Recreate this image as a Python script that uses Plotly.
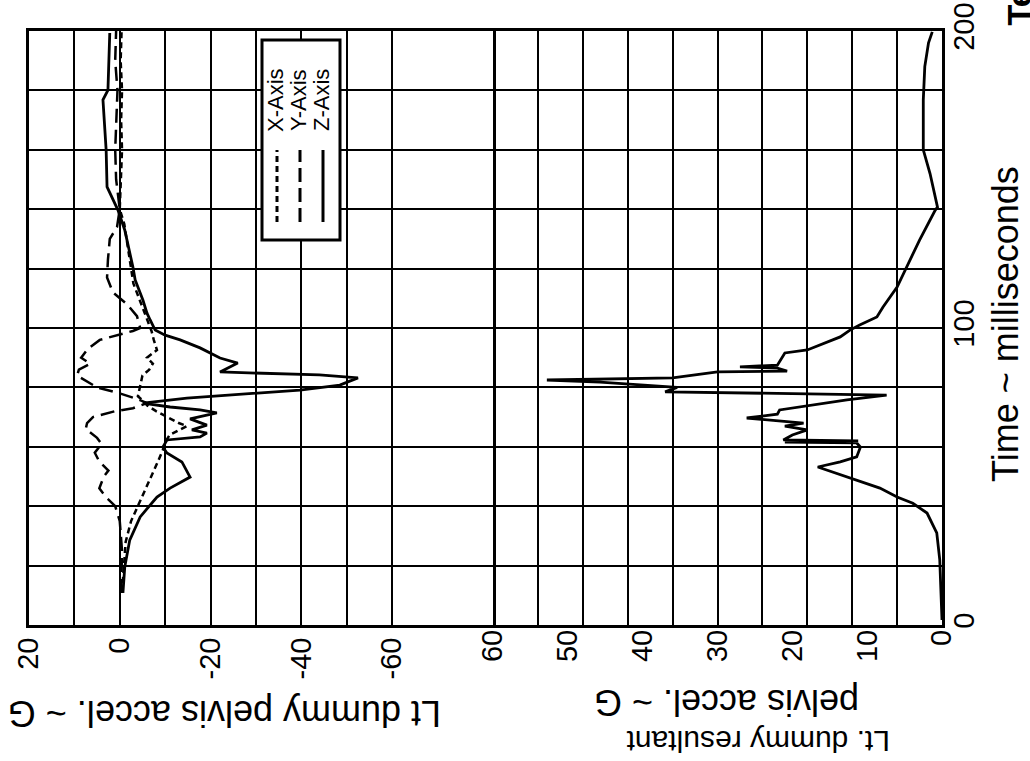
import plotly.graph_objects as go

W, H = 1030, 761

# ---- data: time (ms) and acceleration (G) ----
x_t = [10.8, 20, 28, 35, 40, 45, 50, 55, 59, 62, 64, 66, 67, 68, 70, 72, 74, 75, 77, 80,
       84, 86, 88, 90, 92.6, 96, 99, 103, 109, 115, 125, 135, 140, 150, 160, 170, 180, 190, 200]
x_g = [-0.5, -1.0, -1.3, -2.5, -4.0, -5.5, -7.0, -8.4, -9.5, -10.2, -11, -13.5, -14.8, -13.0, -10.5,
       -8, -6, -5.5, -4.0, -4.5, -5.0, -6.5, -7.3, -6.0, -8.2, -7.5, -7.0, -6.0, -4.5, -3.0, -2.0,
       -1.0, 0.0, -0.3, -0.5, -0.3, -0.5, -0.2, -0.4]

y_t = [10.8, 25, 35, 40, 43, 46, 50, 52, 55, 58, 61, 63, 66, 68, 70, 72, 73, 74.7, 76, 78, 80,
       82, 84, 86, 88, 90, 93, 96, 99, 100, 104, 108, 112, 117, 123, 130, 134, 140, 150, 160,
       170, 180, 190, 200]
y_g = [-0.3, -0.5, 0, 1.0, 3.0, 4.5, 3.5, 2.5, 4.5, 5.5, 4.0, 5.0, 7.5, 7.2, 5.9, 1.0, -2.9,
       -6.0, -4.0, 0, 5, 7.2, 9.4, 9.0, 6.5, 8.5, 7.0, 4.4, -2.9, -4.5, -3.8, -1.6, 1.5, 2.8,
       2.6, 2.2, 0.6, 0.0, 0.8, 1.0, 0.8, 0.5, 1.0, 0.8]

z_t = [10.8, 19.5, 28.6, 36.4, 43.1, 46.1, 49.8, 54.9, 57.9, 59.9, 62.3, 63.3, 64.6, 65.7, 67.3,
       69.4, 71.4, 72.4, 73.4, 74.7, 76.4, 77.8, 79.1, 80.8, 83.2, 84.2, 84.8, 85.2, 88.2, 89.9,
       93.3, 96, 97.6, 99.3, 102.7, 105, 109.4, 111.8, 116.2, 120.5, 133, 139.7, 147.5, 160,
       176.8, 180.1, 199.3]
z_g = [-0.7, -1.1, -2.2, -4.5, -8.2, -11.1, -15.5, -13.7, -10.4, -9.5, -10.4, -17.7, -19.2,
       -15.9, -19.2, -15.5, -21.4, -17.7, -11.1, -5.1, -14.8, -28.7, -39.7, -48.5, -52.5, -44,
       -28.7, -22.1, -26, -22.1, -17.7, -13.3, -10, -7.8, -6.7, -6.0, -5.1, -4.5, -3.4, -2.9,
       -1.1, 0.4, 2.8, 3.0, 3.7, 2.6, 2.2]

r_t = [1.7, 21.9, 31, 37.7, 41, 43.1, 46.1, 48.8, 51.2, 53.2, 54.9, 56.6, 59.9, 61.3, 61.6, 62.0,
       62.3, 64, 65.7, 67, 68, 69.7, 71, 72.4, 75.8, 77.4, 77.9, 78.5, 80, 81.8, 82.5, 83.2, 85.2,
       85.5, 86.5, 86.9, 87.5, 91.6, 92.6, 97, 99.3, 101, 103.7, 107, 113.8, 120.5, 129.6, 139.7,
       140.7, 152, 160, 176.8, 188, 196, 199.7]
r_g = [0.0, 0.3, 0.7, 2.0, 3.9, 6.0, 8.3, 11.4, 14.0, 16.6, 13.6, 11.4, 10.9, 11.4, 21.0, 11.2,
       21.2, 20, 18, 21, 18.5, 26.1, 22, 21.7, 12.7, 7.4, 20, 37, 35.4, 45.7, 52.8, 36, 30, 20.7,
       22, 27, 22, 21, 18, 13.6, 12.3, 11, 8.7, 7.9, 6.0, 4.7, 3.0, 0.9, 0.6, 1.6, 2.5, 2.5, 2.3,
       1.8, 1.3]

# ---- axis ticks ----
time_grid = list(range(0, 201, 20))
time_ticks = [0, 100, 200]
top_grid = list(range(20, -61, -10))
top_text = ["20", "", "0", "", "-20", "", "-40", "", "-60"]
res_ticks = list(range(0, 61, 10))
res_grid = list(range(0, 61, 6))

FONT = "Liberation Sans, Arial, Helvetica, sans-serif"

# page layout in pixels
LEFT, SPLIT, GAP_END, RIGHT = 29, 392, 493, 942
TOP, BOTTOM = 31, 625
# the upper chart's scale continues across the blank strip before the resultant chart
top_px_per_g = (SPLIT - LEFT) / 80.0
top_range = [20, -60 - (GAP_END - SPLIT) / top_px_per_g]


def px(x):
    return x / W


def py(y):
    return 1 - y / H


fig = go.Figure()

common = dict(mode="lines", line_color="black", showlegend=False, hoverinfo="skip")
fig.add_trace(go.Scatter(x=x_g, y=x_t, xaxis="x", yaxis="y",
                         line=dict(width=2.5, dash="6px,4px"), **common))
fig.add_trace(go.Scatter(x=y_g, y=y_t, xaxis="x", yaxis="y",
                         line=dict(width=2.5, dash="14px,7px"), **common))
fig.add_trace(go.Scatter(x=z_g, y=z_t, xaxis="x", yaxis="y",
                         line=dict(width=2.8), **common))
fig.add_trace(go.Scatter(x=r_g, y=r_t, xaxis="x2", yaxis="y",
                         line=dict(width=2.8), **common))
# empty traces so the overlay axes (labels, right frame edge) get drawn
fig.add_trace(go.Scatter(x=[], y=[], xaxis="x3", yaxis="y", **common))
fig.add_trace(go.Scatter(x=[], y=[], xaxis="x2", yaxis="y2", **common))

line_style = dict(showline=True, linecolor="black", linewidth=3, mirror=True,
                  zeroline=False, ticks="", automargin=False)
grid_style = dict(showgrid=True, gridcolor="black", gridwidth=2)
tickfont = dict(family=FONT, size=29, color="black")

fig.update_layout(
    width=W, height=H,
    margin=dict(l=0, r=0, t=0, b=0, autoexpand=False),
    paper_bgcolor="white", plot_bgcolor="white",
    font=dict(family=FONT, color="black"),
    xaxis=dict(domain=[px(LEFT), px(GAP_END)], range=top_range, anchor="y",
               tickmode="array", tickvals=top_grid, ticktext=top_text,
               tickangle=-90, tickfont=tickfont, ticklabelstandoff=-2,
               **grid_style, **line_style),
    xaxis2=dict(domain=[px(GAP_END), px(RIGHT)], range=[60, 0], anchor="y",
                tickmode="array", tickvals=res_grid, showticklabels=False,
                **grid_style, **line_style),
    xaxis3=dict(overlaying="x2", range=[60, 0], anchor="y",
                tickmode="array", tickvals=res_ticks,
                tickangle=-90, tickfont=tickfont, ticklabelstandoff=-2,
                showgrid=False, zeroline=False, ticks="", showline=False,
                automargin=False),
    yaxis=dict(domain=[py(BOTTOM), py(TOP)], range=[0, 200], anchor="x", side="left",
               tickmode="array", tickvals=time_grid, showticklabels=False,
               **grid_style, **line_style),
    yaxis2=dict(overlaying="y", range=[0, 200], anchor="x2", side="right",
                tickmode="array", tickvals=time_ticks,
                tickangle=-90, tickfont=tickfont, ticklabelstandoff=-6,
                showgrid=False, zeroline=False, ticks="",
                showline=True, linecolor="black", linewidth=3, automargin=False),
)

# ---- legend box (drawn rotated, like the rest of the page) ----
shapes = [dict(type="rect", xref="paper", yref="paper",
               x0=px(262), x1=px(340), y0=py(240), y1=py(40),
               line=dict(color="black", width=3), fillcolor="white", layer="above")]
legend_items = [("X-Axis", 277, "6px,4px"), ("Y-Axis", 300, "14px,6px"), ("Z-Axis", 323, "solid")]
for name, cx, dash in legend_items:
    shapes.append(dict(type="line", xref="paper", yref="paper",
                       x0=px(cx), x1=px(cx), y0=py(222), y1=py(150),
                       line=dict(color="black", width=3, dash=dash), layer="above"))
    fig.add_annotation(text=name, xref="paper", yref="paper", x=px(cx - 1), y=py(100),
                       xanchor="center", yanchor="middle",
                       textangle=-90, showarrow=False,
                       font=dict(family=FONT, size=22, color="black"))
fig.update_layout(shapes=shapes)

# ---- axis titles ----
titles = [
    ("Time ~ milliseconds", 1005, 324, -90, 36),
    ("Lt dummy pelvis accel. ~ G", 225, 714, 180, 36),
    ("pelvis accel. ~ G", 727, 703, 180, 36),
    ("Lt. dummy resultant", 758, 742, 180, 30),
]
for text, cx, cy, ang, size in titles:
    fig.add_annotation(text=text, xref="paper", yref="paper", x=px(cx), y=py(cy),
                       xanchor="center", yanchor="middle", textangle=ang, showarrow=False,
                       font=dict(family=FONT, size=size, color="black"))
fig.add_annotation(text="<b>Test</b>", xref="paper", yref="paper",
                   x=px(1019), y=py(28), xanchor="center", yanchor="bottom",
                   textangle=-90, showarrow=False,
                   font=dict(family=FONT, size=34, color="black"))

fig.write_html("out.html")
